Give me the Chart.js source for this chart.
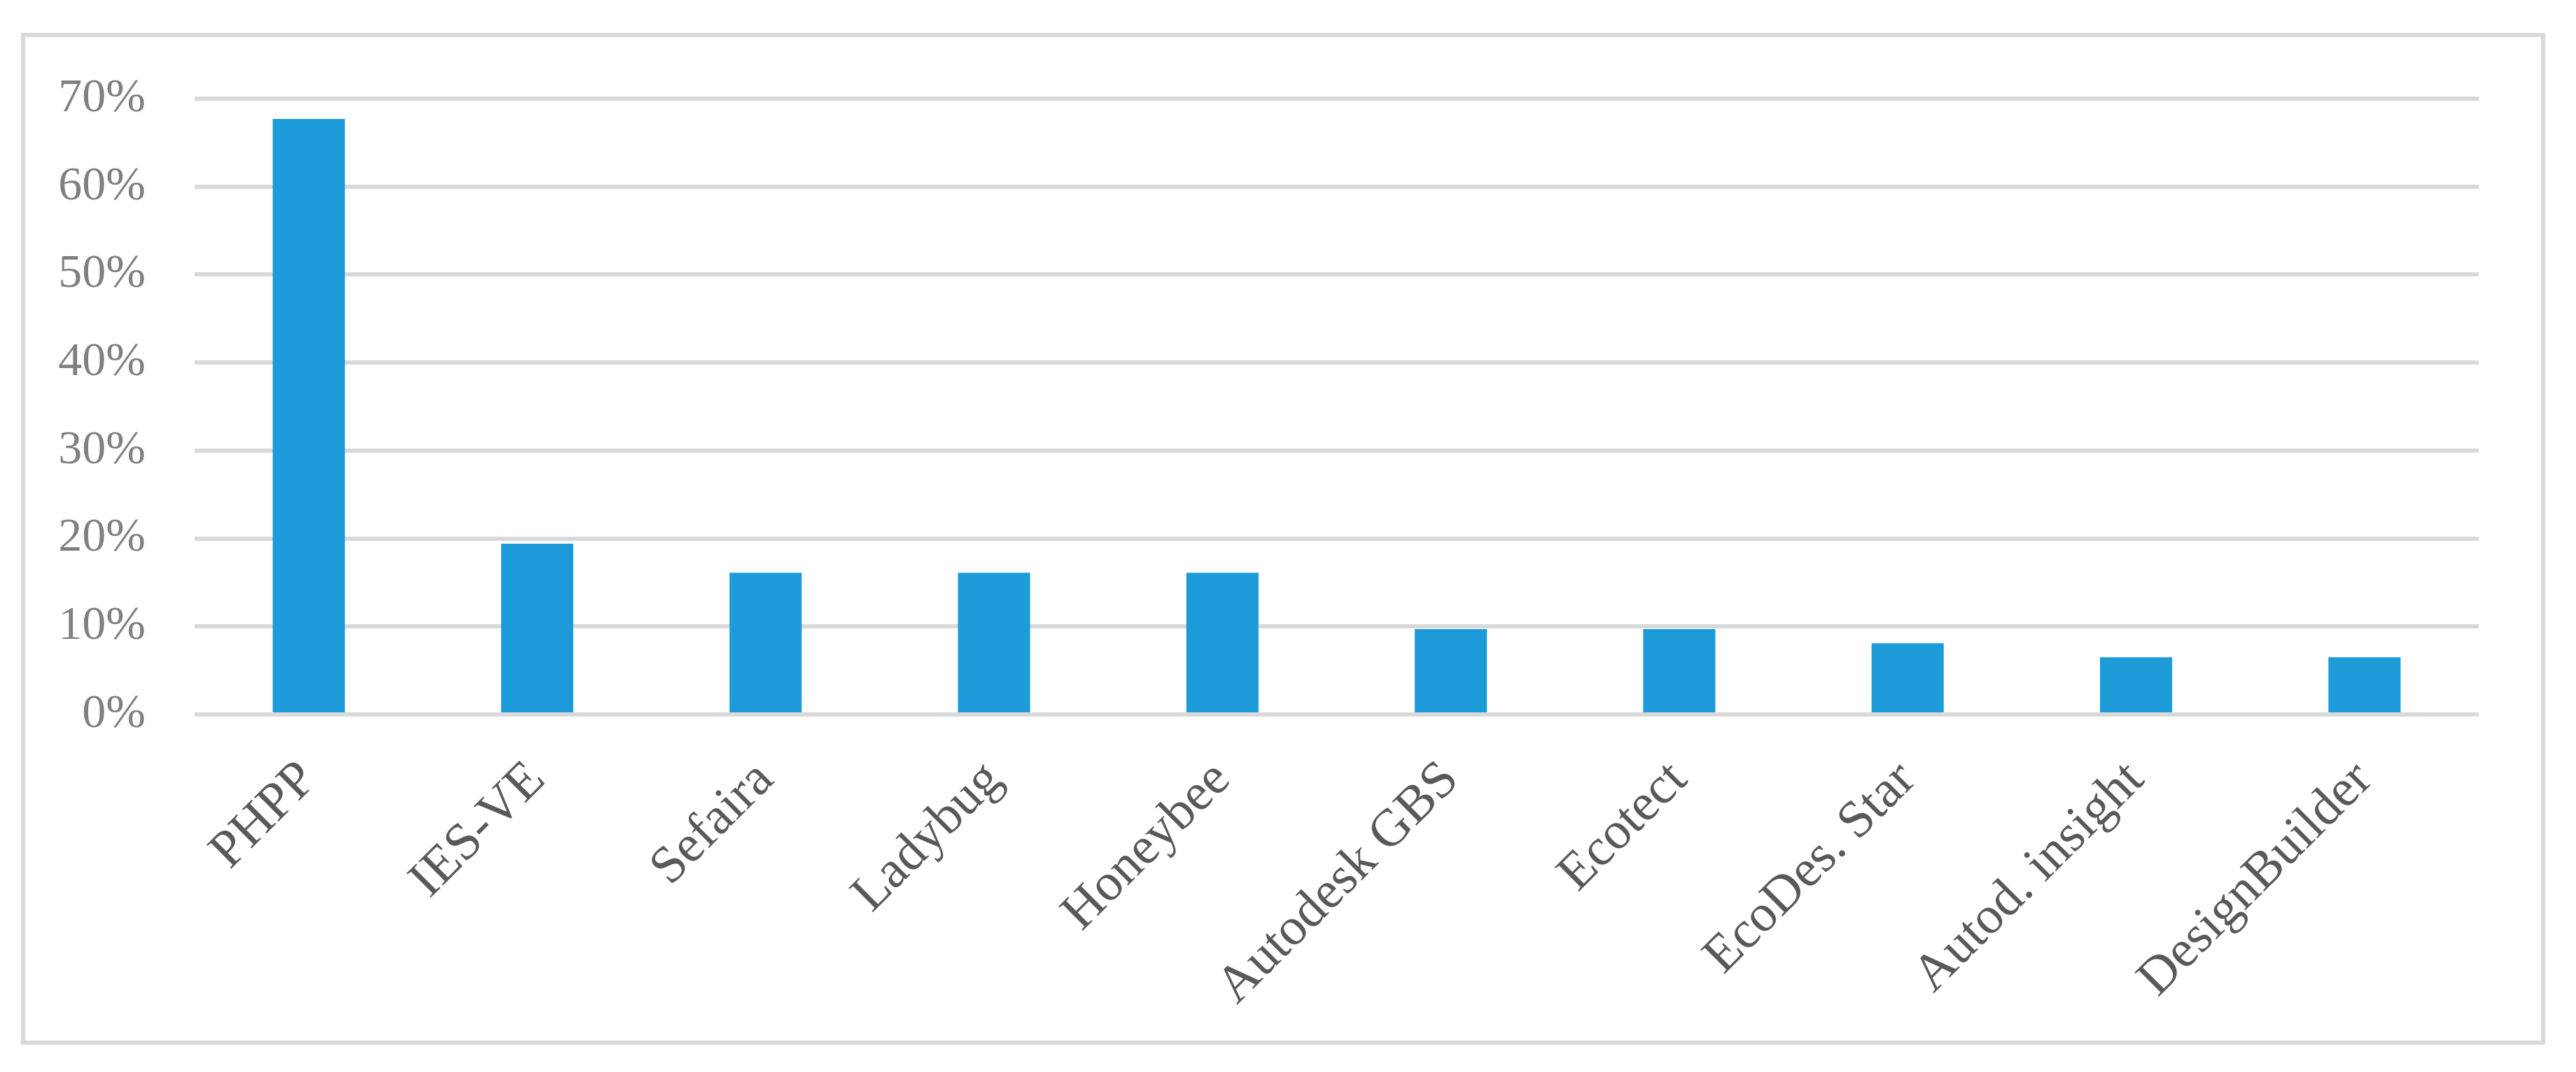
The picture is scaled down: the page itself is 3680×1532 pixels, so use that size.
<!DOCTYPE html>
<html lang="en">
<head>
    <meta charset="UTF-8">
    <title>Simulation tools</title>
    <script src="https://cdn.jsdelivr.net/npm/chart.js"></script>
    <style>
        html, body { margin: 0; padding: 0; background: white; }
        body { width: 3680px; height: 1532px; position: relative; overflow: hidden; }
        .frame {
            position: absolute;
            left: 30px;
            top: 47px;
            width: 3594px;
            height: 1434px;
            border: 6px solid #d9d9d9;
        }
        .frame canvas { display: block; }
    </style>
</head>
<body>
    <div class="frame">
        <canvas id="toolsChart" width="3594" height="1434"></canvas>
    </div>

<script>
    var tools = ['PHPP', 'IES-VE', 'Sefaira', 'Ladybug', 'Honeybee', 'Autodesk GBS',
                 'Ecotect', 'EcoDes. Star', 'Autod. insight', 'DesignBuilder'];
    var shares = [0.677, 0.194, 0.161, 0.161, 0.161, 0.097, 0.097, 0.081, 0.065, 0.065];
    var yTicks = [0, 0.1, 0.2, 0.3, 0.4, 0.5, 0.6, 0.7];

    var serif = "'Palatino Linotype', 'Book Antiqua', Palatino, 'Liberation Serif', serif";

    document.addEventListener("DOMContentLoaded", function() {
        var ctx = document.getElementById('toolsChart').getContext('2d');
        new Chart(ctx, {
            type: 'bar',
            data: {
                labels: tools,
                datasets: [{
                    data: shares,
                    backgroundColor: '#1d9bd8',
                    borderWidth: 0,
                    categoryPercentage: 1,
                    barPercentage: 0.316
                }]
            },
            options: {
                responsive: false,
                animation: false,
                layout: { padding: { top: 88, right: 89, left: 0, bottom: 0 } },
                plugins: {
                    legend: { display: false },
                    tooltip: { enabled: false }
                },
                scales: {
                    x: {
                        grid: { display: false },
                        border: { display: false },
                        ticks: {
                            color: '#595959',
                            font: { family: serif, size: 75 },
                            minRotation: 45,
                            maxRotation: 45,
                            autoSkip: false,
                            padding: 42
                        },
                        afterFit: function(scale) { scale.height = 466; }
                    },
                    y: {
                        min: 0,
                        max: 0.7,
                        afterBuildTicks: function(scale) {
                            scale.ticks = yTicks.map(function(v) { return { value: v }; });
                        },
                        grid: { color: '#d9d9d9', lineWidth: 6, drawTicks: false },
                        border: { display: false },
                        ticks: {
                            color: '#808080',
                            font: { family: serif, size: 68 },
                            padding: 70,
                            callback: function(v) { return Math.round(v * 100) + '%'; }
                        },
                        afterFit: function(scale) {
                            // the tick padding would otherwise push the plot top down
                            scale.width = 242;
                            scale.paddingTop = 0;
                            scale.paddingBottom = 0;
                        }
                    }
                }
            }
        });
    });
</script>
</body>
</html>
